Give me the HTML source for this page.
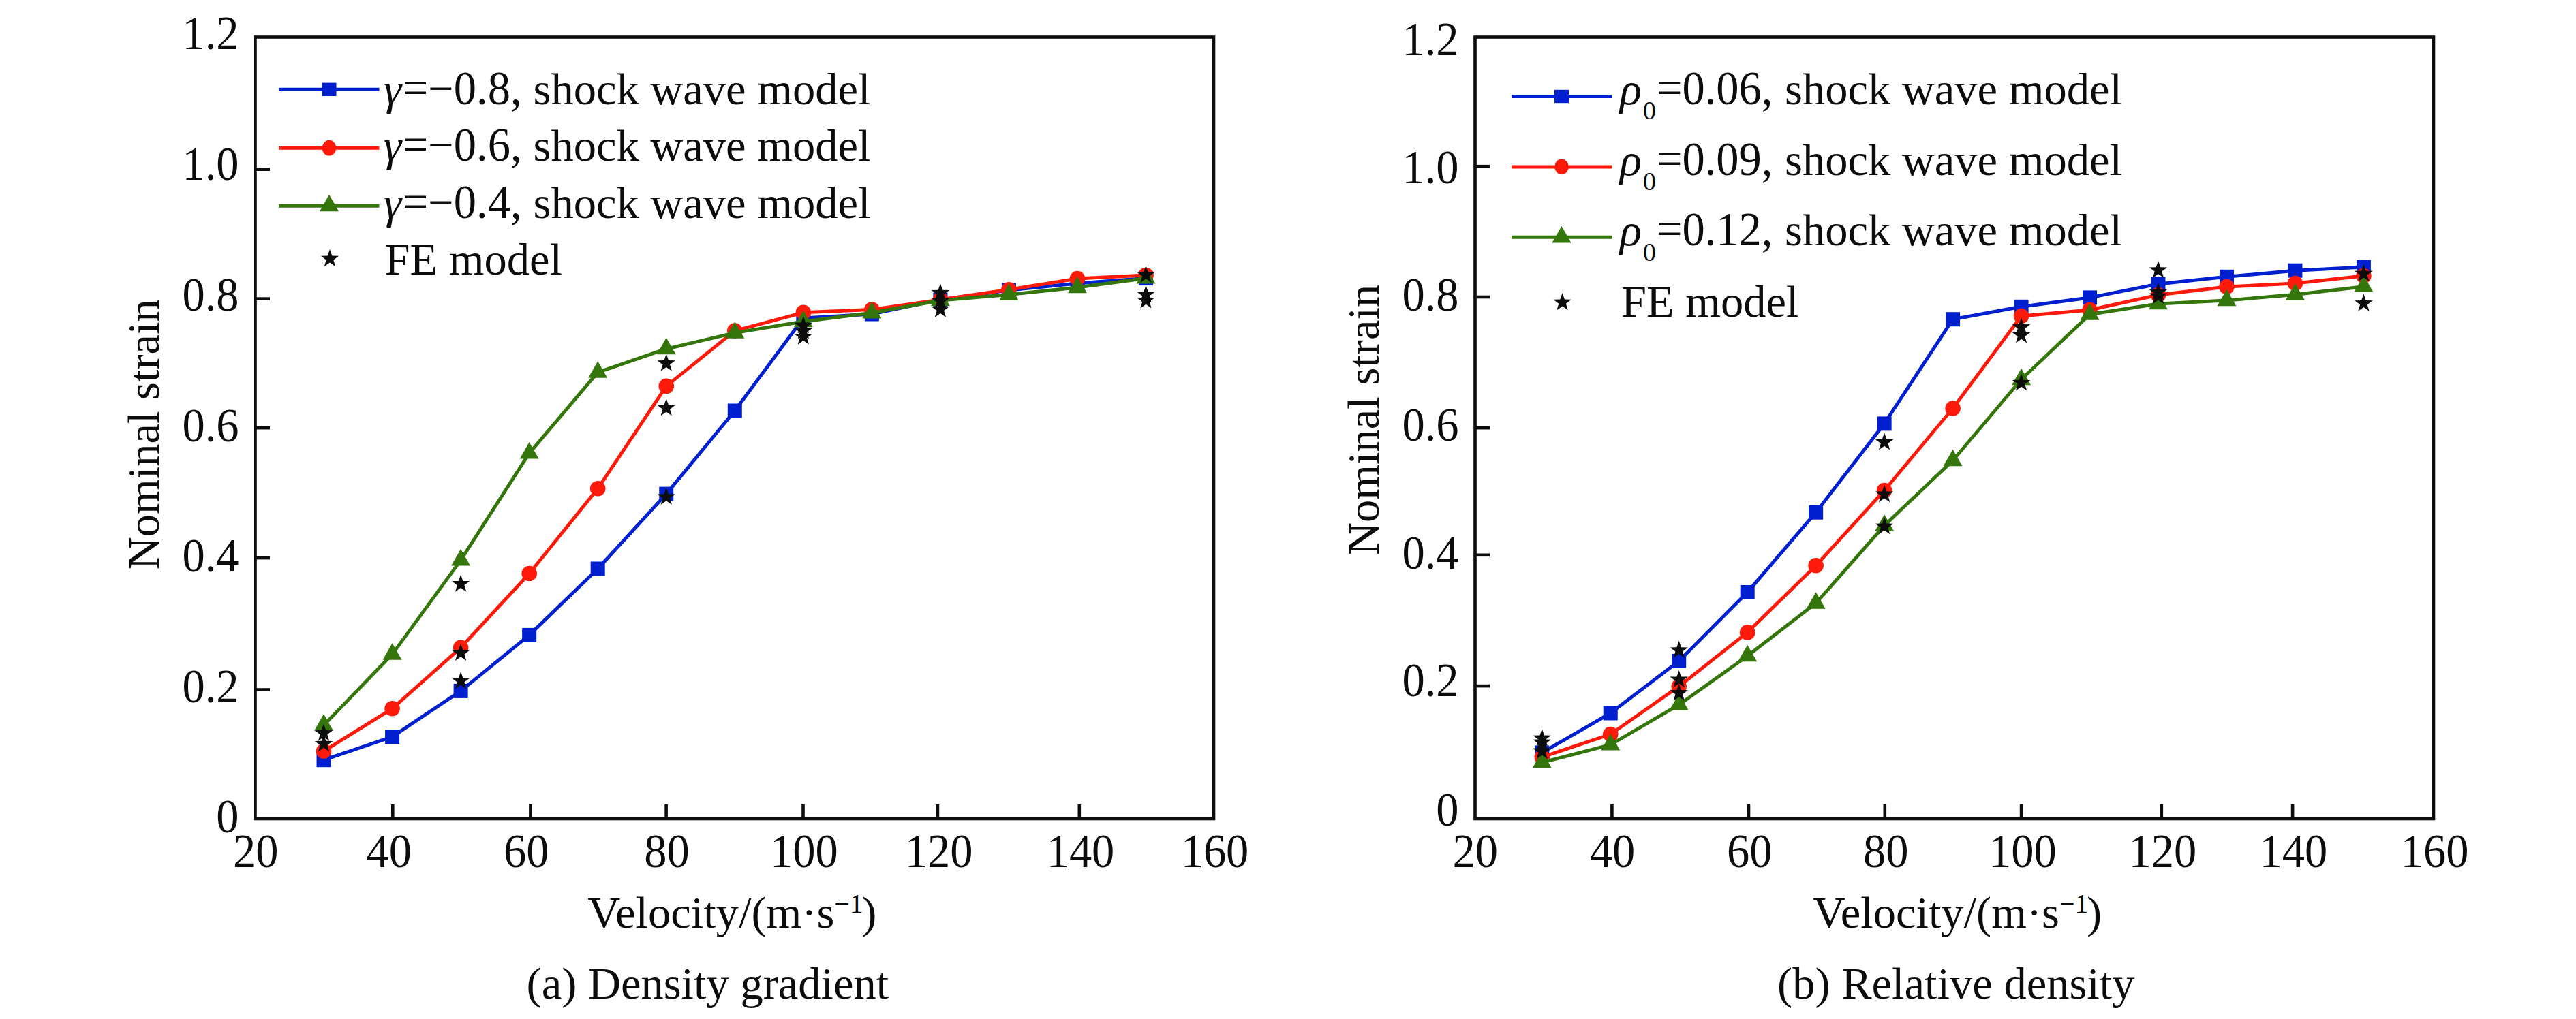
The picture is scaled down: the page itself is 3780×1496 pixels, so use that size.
<!DOCTYPE html>
<html><head><meta charset="utf-8"><title>Nominal strain vs velocity</title>
<style>
html,body{margin:0;padding:0;background:#fff;}
svg{display:block;}
text{font-family:"Liberation Serif",serif;fill:#0b0c0c;}
</style></head>
<body>
<svg width="3780" height="1496" viewBox="0 0 3780 1496">
<rect x="0" y="0" width="3780" height="1496" fill="#ffffff"/>
<rect x="374.5" y="54.5" width="1406.5" height="1147.5" fill="none" stroke="#0b0c0c" stroke-width="4.6"/>
<line x1="374.5" y1="248.7" x2="396.0" y2="248.7" stroke="#0b0c0c" stroke-width="4.6"/>
<line x1="374.5" y1="438.6" x2="396.0" y2="438.6" stroke="#0b0c0c" stroke-width="4.6"/>
<line x1="374.5" y1="628.2" x2="396.0" y2="628.2" stroke="#0b0c0c" stroke-width="4.6"/>
<line x1="374.5" y1="819.1" x2="396.0" y2="819.1" stroke="#0b0c0c" stroke-width="4.6"/>
<line x1="374.5" y1="1012.5" x2="396.0" y2="1012.5" stroke="#0b0c0c" stroke-width="4.6"/>
<line x1="576.3" y1="1202" x2="576.3" y2="1181" stroke="#0b0c0c" stroke-width="4.6"/>
<line x1="778.4" y1="1202" x2="778.4" y2="1181" stroke="#0b0c0c" stroke-width="4.6"/>
<line x1="977.6" y1="1202" x2="977.6" y2="1181" stroke="#0b0c0c" stroke-width="4.6"/>
<line x1="1178.5" y1="1202" x2="1178.5" y2="1181" stroke="#0b0c0c" stroke-width="4.6"/>
<line x1="1375.9" y1="1202" x2="1375.9" y2="1181" stroke="#0b0c0c" stroke-width="4.6"/>
<line x1="1583.8" y1="1202" x2="1583.8" y2="1181" stroke="#0b0c0c" stroke-width="4.6"/>
<text transform="translate(350.5,72) scale(0.9638,1)" font-size="69.0" text-anchor="end">1.2</text>
<text transform="translate(350.5,264) scale(0.9638,1)" font-size="69.0" text-anchor="end">1.0</text>
<text transform="translate(350.5,456) scale(0.9638,1)" font-size="69.0" text-anchor="end">0.8</text>
<text transform="translate(350.5,647.5) scale(0.9638,1)" font-size="69.0" text-anchor="end">0.6</text>
<text transform="translate(350.5,839) scale(0.9638,1)" font-size="69.0" text-anchor="end">0.4</text>
<text transform="translate(350.5,1031) scale(0.9638,1)" font-size="69.0" text-anchor="end">0.2</text>
<text transform="translate(350.5,1222) scale(0.9638,1)" font-size="69.0" text-anchor="end">0</text>
<text transform="translate(375.3,1273) scale(0.9638,1)" font-size="69.0" text-anchor="middle">20</text>
<text transform="translate(570.8,1273) scale(0.9638,1)" font-size="69.0" text-anchor="middle">40</text>
<text transform="translate(772.3,1273) scale(0.9638,1)" font-size="69.0" text-anchor="middle">60</text>
<text transform="translate(978.5,1273) scale(0.9638,1)" font-size="69.0" text-anchor="middle">80</text>
<text transform="translate(1179.9,1273) scale(0.9638,1)" font-size="69.0" text-anchor="middle">100</text>
<text transform="translate(1377.7,1273) scale(0.9638,1)" font-size="69.0" text-anchor="middle">120</text>
<text transform="translate(1585.5,1273) scale(0.9638,1)" font-size="69.0" text-anchor="middle">140</text>
<text transform="translate(1782.5,1273) scale(0.9638,1)" font-size="69.0" text-anchor="middle">160</text>
<polyline points="475.04,1115.70 575.58,1081.60 676.12,1014.40 776.66,932.40 877.20,835.00 977.74,725.10 1078.28,603.00 1178.82,467.00 1279.36,461.00 1379.90,440.00 1480.44,426.00 1580.98,416.00 1681.52,408.60" fill="none" stroke="#0020d0" stroke-width="5" stroke-linejoin="round"/>
<rect x="464.54" y="1105.20" width="21" height="21" fill="#0020d0"/>
<rect x="565.08" y="1071.10" width="21" height="21" fill="#0020d0"/>
<rect x="665.62" y="1003.90" width="21" height="21" fill="#0020d0"/>
<rect x="766.16" y="921.90" width="21" height="21" fill="#0020d0"/>
<rect x="866.70" y="824.50" width="21" height="21" fill="#0020d0"/>
<rect x="967.24" y="714.60" width="21" height="21" fill="#0020d0"/>
<rect x="1067.78" y="592.50" width="21" height="21" fill="#0020d0"/>
<rect x="1168.32" y="456.50" width="21" height="21" fill="#0020d0"/>
<rect x="1268.86" y="450.50" width="21" height="21" fill="#0020d0"/>
<rect x="1369.40" y="429.50" width="21" height="21" fill="#0020d0"/>
<rect x="1469.94" y="415.50" width="21" height="21" fill="#0020d0"/>
<rect x="1570.48" y="405.50" width="21" height="21" fill="#0020d0"/>
<rect x="1671.02" y="398.10" width="21" height="21" fill="#0020d0"/>
<polyline points="475.04,1102.80 575.58,1040.30 676.12,950.80 776.66,842.00 877.20,717.30 977.74,566.90 1078.28,485.60 1178.82,458.80 1279.36,454.50 1379.90,440.00 1480.44,425.20 1580.98,409.00 1681.52,404.00" fill="none" stroke="#fd1a0b" stroke-width="5" stroke-linejoin="round"/>
<circle cx="475.04" cy="1102.80" r="11.3" fill="#fd1a0b"/>
<circle cx="575.58" cy="1040.30" r="11.3" fill="#fd1a0b"/>
<circle cx="676.12" cy="950.80" r="11.3" fill="#fd1a0b"/>
<circle cx="776.66" cy="842.00" r="11.3" fill="#fd1a0b"/>
<circle cx="877.20" cy="717.30" r="11.3" fill="#fd1a0b"/>
<circle cx="977.74" cy="566.90" r="11.3" fill="#fd1a0b"/>
<circle cx="1078.28" cy="485.60" r="11.3" fill="#fd1a0b"/>
<circle cx="1178.82" cy="458.80" r="11.3" fill="#fd1a0b"/>
<circle cx="1279.36" cy="454.50" r="11.3" fill="#fd1a0b"/>
<circle cx="1379.90" cy="440.00" r="11.3" fill="#fd1a0b"/>
<circle cx="1480.44" cy="425.20" r="11.3" fill="#fd1a0b"/>
<circle cx="1580.98" cy="409.00" r="11.3" fill="#fd1a0b"/>
<circle cx="1681.52" cy="404.00" r="11.3" fill="#fd1a0b"/>
<polyline points="475.04,1064.70 575.58,960.60 676.12,822.40 776.66,665.30 877.20,546.70 977.74,512.20 1078.28,488.60 1178.82,472.00 1279.36,459.30 1379.90,441.00 1480.44,432.50 1580.98,422.00 1681.52,408.40" fill="none" stroke="#34750c" stroke-width="5" stroke-linejoin="round"/>
<polygon points="475.04,1048.37 461.04,1072.87 489.04,1072.87" fill="#34750c"/>
<polygon points="575.58,944.27 561.58,968.77 589.58,968.77" fill="#34750c"/>
<polygon points="676.12,806.07 662.12,830.57 690.12,830.57" fill="#34750c"/>
<polygon points="776.66,648.97 762.66,673.47 790.66,673.47" fill="#34750c"/>
<polygon points="877.20,530.37 863.20,554.87 891.20,554.87" fill="#34750c"/>
<polygon points="977.74,495.87 963.74,520.37 991.74,520.37" fill="#34750c"/>
<polygon points="1078.28,472.27 1064.28,496.77 1092.28,496.77" fill="#34750c"/>
<polygon points="1178.82,455.67 1164.82,480.17 1192.82,480.17" fill="#34750c"/>
<polygon points="1279.36,442.97 1265.36,467.47 1293.36,467.47" fill="#34750c"/>
<polygon points="1379.90,424.67 1365.90,449.17 1393.90,449.17" fill="#34750c"/>
<polygon points="1480.44,416.17 1466.44,440.67 1494.44,440.67" fill="#34750c"/>
<polygon points="1580.98,405.67 1566.98,430.17 1594.98,430.17" fill="#34750c"/>
<polygon points="1681.52,392.07 1667.52,416.57 1695.52,416.57" fill="#34750c"/>
<polygon points="475.04,1062.60 478.31,1072.00 488.26,1072.20 480.33,1078.22 483.21,1087.75 475.04,1082.06 466.87,1087.75 469.75,1078.22 461.82,1072.20 471.77,1072.00" fill="#0b0c0c"/>
<polygon points="475.04,1078.30 478.31,1087.70 488.26,1087.90 480.33,1093.92 483.21,1103.45 475.04,1097.76 466.87,1103.45 469.75,1093.92 461.82,1087.90 471.77,1087.70" fill="#0b0c0c"/>
<polygon points="676.12,843.50 679.39,852.90 689.34,853.10 681.41,859.12 684.29,868.65 676.12,862.96 667.95,868.65 670.83,859.12 662.90,853.10 672.85,852.90" fill="#0b0c0c"/>
<polygon points="676.12,944.80 679.39,954.20 689.34,954.40 681.41,960.42 684.29,969.95 676.12,964.26 667.95,969.95 670.83,960.42 662.90,954.40 672.85,954.20" fill="#0b0c0c"/>
<polygon points="676.12,986.00 679.39,995.40 689.34,995.60 681.41,1001.62 684.29,1011.15 676.12,1005.46 667.95,1011.15 670.83,1001.62 662.90,995.60 672.85,995.40" fill="#0b0c0c"/>
<polygon points="977.74,519.60 981.01,529.00 990.96,529.20 983.03,535.22 985.91,544.75 977.74,539.06 969.57,544.75 972.45,535.22 964.52,529.20 974.47,529.00" fill="#0b0c0c"/>
<polygon points="977.74,585.20 981.01,594.60 990.96,594.80 983.03,600.82 985.91,610.35 977.74,604.66 969.57,610.35 972.45,600.82 964.52,594.80 974.47,594.60" fill="#0b0c0c"/>
<polygon points="977.74,715.90 981.01,725.30 990.96,725.50 983.03,731.52 985.91,741.05 977.74,735.36 969.57,741.05 972.45,731.52 964.52,725.50 974.47,725.30" fill="#0b0c0c"/>
<polygon points="1178.82,464.10 1182.09,473.50 1192.04,473.70 1184.11,479.72 1186.99,489.25 1178.82,483.56 1170.65,489.25 1173.53,479.72 1165.60,473.70 1175.55,473.50" fill="#0b0c0c"/>
<polygon points="1178.82,472.10 1182.09,481.50 1192.04,481.70 1184.11,487.72 1186.99,497.25 1178.82,491.56 1170.65,497.25 1173.53,487.72 1165.60,481.70 1175.55,481.50" fill="#0b0c0c"/>
<polygon points="1178.82,480.60 1182.09,490.00 1192.04,490.20 1184.11,496.22 1186.99,505.75 1178.82,500.06 1170.65,505.75 1173.53,496.22 1165.60,490.20 1175.55,490.00" fill="#0b0c0c"/>
<polygon points="1379.90,416.30 1383.17,425.70 1393.12,425.90 1385.19,431.92 1388.07,441.45 1379.90,435.76 1371.73,441.45 1374.61,431.92 1366.68,425.90 1376.63,425.70" fill="#0b0c0c"/>
<polygon points="1379.90,428.10 1383.17,437.50 1393.12,437.70 1385.19,443.72 1388.07,453.25 1379.90,447.56 1371.73,453.25 1374.61,443.72 1366.68,437.70 1376.63,437.50" fill="#0b0c0c"/>
<polygon points="1379.90,440.50 1383.17,449.90 1393.12,450.10 1385.19,456.12 1388.07,465.65 1379.90,459.96 1371.73,465.65 1374.61,456.12 1366.68,450.10 1376.63,449.90" fill="#0b0c0c"/>
<polygon points="1681.52,389.80 1684.79,399.20 1694.74,399.40 1686.81,405.42 1689.69,414.95 1681.52,409.26 1673.35,414.95 1676.23,405.42 1668.30,399.40 1678.25,399.20" fill="#0b0c0c"/>
<polygon points="1681.52,419.00 1684.79,428.40 1694.74,428.60 1686.81,434.62 1689.69,444.15 1681.52,438.46 1673.35,444.15 1676.23,434.62 1668.30,428.60 1678.25,428.40" fill="#0b0c0c"/>
<polygon points="1681.52,427.30 1684.79,436.70 1694.74,436.90 1686.81,442.92 1689.69,452.45 1681.52,446.76 1673.35,452.45 1676.23,442.92 1668.30,436.90 1678.25,436.70" fill="#0b0c0c"/>
<text transform="translate(233.3,637.7) rotate(-90)" font-size="66.5" text-anchor="middle">Nominal strain</text>
<text x="862.3" y="1362.3" font-size="66.5" text-anchor="start" >Velocity/(m·s<tspan font-size="40" dy="-22.5">−1</tspan><tspan dy="22.5" dx="-2.5">)</tspan></text>
<text x="1038.4" y="1466.3" font-size="66.5" text-anchor="middle" >(a) Density gradient</text>
<line x1="409" y1="131.3" x2="556.5" y2="131.3" stroke="#0020d0" stroke-width="5"/>
<rect x="472.50" y="121.60" width="21" height="19.4" fill="#0020d0"/>
<text x="563" y="153.1" font-size="66.5"><tspan font-style="italic">γ</tspan><tspan x="782.5">shock wave model</tspan></text>
<text transform="translate(590.8,153.1) scale(0.9638,1)" font-size="69.0" text-anchor="start">=−0.8,</text>
<line x1="409" y1="217.2" x2="556.5" y2="217.2" stroke="#fd1a0b" stroke-width="5"/>
<ellipse cx="483" cy="217.2" rx="10.3" ry="11.4" fill="#fd1a0b"/>
<text x="563" y="236.1" font-size="66.5"><tspan font-style="italic">γ</tspan><tspan x="782.5">shock wave model</tspan></text>
<text transform="translate(590.8,236.1) scale(0.9638,1)" font-size="69.0" text-anchor="start">=−0.6,</text>
<line x1="409" y1="302.2" x2="556.5" y2="302.2" stroke="#34750c" stroke-width="5"/>
<polygon points="483.00,285.87 469.00,310.37 497.00,310.37" fill="#34750c"/>
<text x="563" y="319.5" font-size="66.5"><tspan font-style="italic">γ</tspan><tspan x="782.5">shock wave model</tspan></text>
<text transform="translate(590.8,319.5) scale(0.9638,1)" font-size="69.0" text-anchor="start">=−0.4,</text>
<polygon points="484.00,366.10 487.27,375.50 497.22,375.70 489.29,381.72 492.17,391.25 484.00,385.56 475.83,391.25 478.71,381.72 470.78,375.70 480.73,375.50" fill="#0b0c0c"/>
<text x="564.5" y="403.2" font-size="66.5" text-anchor="start" >FE model</text>
<rect x="2164.5" y="54.5" width="1406.5" height="1147.5" fill="none" stroke="#0b0c0c" stroke-width="4.6"/>
<line x1="2164.5" y1="244.2" x2="2186.0" y2="244.2" stroke="#0b0c0c" stroke-width="4.6"/>
<line x1="2164.5" y1="436" x2="2186.0" y2="436" stroke="#0b0c0c" stroke-width="4.6"/>
<line x1="2164.5" y1="628.2" x2="2186.0" y2="628.2" stroke="#0b0c0c" stroke-width="4.6"/>
<line x1="2164.5" y1="814.8" x2="2186.0" y2="814.8" stroke="#0b0c0c" stroke-width="4.6"/>
<line x1="2164.5" y1="1007.1" x2="2186.0" y2="1007.1" stroke="#0b0c0c" stroke-width="4.6"/>
<line x1="2365.4" y1="1202" x2="2365.4" y2="1181" stroke="#0b0c0c" stroke-width="4.6"/>
<line x1="2566" y1="1202" x2="2566" y2="1181" stroke="#0b0c0c" stroke-width="4.6"/>
<line x1="2765.8" y1="1202" x2="2765.8" y2="1181" stroke="#0b0c0c" stroke-width="4.6"/>
<line x1="2966.1" y1="1202" x2="2966.1" y2="1181" stroke="#0b0c0c" stroke-width="4.6"/>
<line x1="3171.8" y1="1202" x2="3171.8" y2="1181" stroke="#0b0c0c" stroke-width="4.6"/>
<line x1="3364.1" y1="1202" x2="3364.1" y2="1181" stroke="#0b0c0c" stroke-width="4.6"/>
<text transform="translate(2140.5,80.7) scale(0.9638,1)" font-size="69.0" text-anchor="end">1.2</text>
<text transform="translate(2140.5,268.7) scale(0.9638,1)" font-size="69.0" text-anchor="end">1.0</text>
<text transform="translate(2140.5,455.7) scale(0.9638,1)" font-size="69.0" text-anchor="end">0.8</text>
<text transform="translate(2140.5,647.1) scale(0.9638,1)" font-size="69.0" text-anchor="end">0.6</text>
<text transform="translate(2140.5,835.1) scale(0.9638,1)" font-size="69.0" text-anchor="end">0.4</text>
<text transform="translate(2140.5,1022.4) scale(0.9638,1)" font-size="69.0" text-anchor="end">0.2</text>
<text transform="translate(2140.5,1211.5) scale(0.9638,1)" font-size="69.0" text-anchor="end">0</text>
<text transform="translate(2164.8,1273) scale(0.9638,1)" font-size="69.0" text-anchor="middle">20</text>
<text transform="translate(2366.1,1273) scale(0.9638,1)" font-size="69.0" text-anchor="middle">40</text>
<text transform="translate(2567.2,1273) scale(0.9638,1)" font-size="69.0" text-anchor="middle">60</text>
<text transform="translate(2767.3,1273) scale(0.9638,1)" font-size="69.0" text-anchor="middle">80</text>
<text transform="translate(2967.8,1273) scale(0.9638,1)" font-size="69.0" text-anchor="middle">100</text>
<text transform="translate(3173.3,1273) scale(0.9638,1)" font-size="69.0" text-anchor="middle">120</text>
<text transform="translate(3365.4,1273) scale(0.9638,1)" font-size="69.0" text-anchor="middle">140</text>
<text transform="translate(3572.6,1273) scale(0.9638,1)" font-size="69.0" text-anchor="middle">160</text>
<polyline points="2262.77,1105.00 2363.24,1047.00 2463.71,970.40 2564.18,869.50 2664.65,752.20 2765.12,621.90 2865.59,468.70 2966.06,450.30 3066.53,436.90 3167.00,417.00 3267.47,406.30 3367.94,397.20 3468.41,392.10" fill="none" stroke="#0020d0" stroke-width="5" stroke-linejoin="round"/>
<rect x="2252.27" y="1094.50" width="21" height="21" fill="#0020d0"/>
<rect x="2352.74" y="1036.50" width="21" height="21" fill="#0020d0"/>
<rect x="2453.21" y="959.90" width="21" height="21" fill="#0020d0"/>
<rect x="2553.68" y="859.00" width="21" height="21" fill="#0020d0"/>
<rect x="2654.15" y="741.70" width="21" height="21" fill="#0020d0"/>
<rect x="2754.62" y="611.40" width="21" height="21" fill="#0020d0"/>
<rect x="2855.09" y="458.20" width="21" height="21" fill="#0020d0"/>
<rect x="2955.56" y="439.80" width="21" height="21" fill="#0020d0"/>
<rect x="3056.03" y="426.40" width="21" height="21" fill="#0020d0"/>
<rect x="3156.50" y="406.50" width="21" height="21" fill="#0020d0"/>
<rect x="3256.97" y="395.80" width="21" height="21" fill="#0020d0"/>
<rect x="3357.44" y="386.70" width="21" height="21" fill="#0020d0"/>
<rect x="3457.91" y="381.60" width="21" height="21" fill="#0020d0"/>
<polyline points="2262.77,1111.50 2363.24,1078.00 2463.71,1007.70 2564.18,928.40 2664.65,830.30 2765.12,720.00 2865.59,599.50 2966.06,464.00 3066.53,455.00 3167.00,433.00 3267.47,421.00 3367.94,416.00 3468.41,405.00" fill="none" stroke="#fd1a0b" stroke-width="5" stroke-linejoin="round"/>
<circle cx="2262.77" cy="1111.50" r="11.3" fill="#fd1a0b"/>
<circle cx="2363.24" cy="1078.00" r="11.3" fill="#fd1a0b"/>
<circle cx="2463.71" cy="1007.70" r="11.3" fill="#fd1a0b"/>
<circle cx="2564.18" cy="928.40" r="11.3" fill="#fd1a0b"/>
<circle cx="2664.65" cy="830.30" r="11.3" fill="#fd1a0b"/>
<circle cx="2765.12" cy="720.00" r="11.3" fill="#fd1a0b"/>
<circle cx="2865.59" cy="599.50" r="11.3" fill="#fd1a0b"/>
<circle cx="2966.06" cy="464.00" r="11.3" fill="#fd1a0b"/>
<circle cx="3066.53" cy="455.00" r="11.3" fill="#fd1a0b"/>
<circle cx="3167.00" cy="433.00" r="11.3" fill="#fd1a0b"/>
<circle cx="3267.47" cy="421.00" r="11.3" fill="#fd1a0b"/>
<circle cx="3367.94" cy="416.00" r="11.3" fill="#fd1a0b"/>
<circle cx="3468.41" cy="405.00" r="11.3" fill="#fd1a0b"/>
<polyline points="2262.77,1119.30 2363.24,1093.40 2463.71,1034.70 2564.18,963.00 2664.65,885.60 2765.12,771.50 2865.59,676.00 2966.06,557.00 3066.53,461.50 3167.00,446.00 3267.47,441.10 3367.94,432.40 3468.41,420.70" fill="none" stroke="#34750c" stroke-width="5" stroke-linejoin="round"/>
<polygon points="2262.77,1102.97 2248.77,1127.47 2276.77,1127.47" fill="#34750c"/>
<polygon points="2363.24,1077.07 2349.24,1101.57 2377.24,1101.57" fill="#34750c"/>
<polygon points="2463.71,1018.37 2449.71,1042.87 2477.71,1042.87" fill="#34750c"/>
<polygon points="2564.18,946.67 2550.18,971.17 2578.18,971.17" fill="#34750c"/>
<polygon points="2664.65,869.27 2650.65,893.77 2678.65,893.77" fill="#34750c"/>
<polygon points="2765.12,755.17 2751.12,779.67 2779.12,779.67" fill="#34750c"/>
<polygon points="2865.59,659.67 2851.59,684.17 2879.59,684.17" fill="#34750c"/>
<polygon points="2966.06,540.67 2952.06,565.17 2980.06,565.17" fill="#34750c"/>
<polygon points="3066.53,445.17 3052.53,469.67 3080.53,469.67" fill="#34750c"/>
<polygon points="3167.00,429.67 3153.00,454.17 3181.00,454.17" fill="#34750c"/>
<polygon points="3267.47,424.77 3253.47,449.27 3281.47,449.27" fill="#34750c"/>
<polygon points="3367.94,416.07 3353.94,440.57 3381.94,440.57" fill="#34750c"/>
<polygon points="3468.41,404.37 3454.41,428.87 3482.41,428.87" fill="#34750c"/>
<polygon points="2262.77,1070.10 2266.04,1079.50 2275.99,1079.70 2268.06,1085.72 2270.94,1095.25 2262.77,1089.56 2254.60,1095.25 2257.48,1085.72 2249.55,1079.70 2259.50,1079.50" fill="#0b0c0c"/>
<polygon points="2262.77,1076.10 2266.04,1085.50 2275.99,1085.70 2268.06,1091.72 2270.94,1101.25 2262.77,1095.56 2254.60,1101.25 2257.48,1091.72 2249.55,1085.70 2259.50,1085.50" fill="#0b0c0c"/>
<polygon points="2262.77,1089.10 2266.04,1098.50 2275.99,1098.70 2268.06,1104.72 2270.94,1114.25 2262.77,1108.56 2254.60,1114.25 2257.48,1104.72 2249.55,1098.70 2259.50,1098.50" fill="#0b0c0c"/>
<polygon points="2463.71,940.80 2466.98,950.20 2476.93,950.40 2469.00,956.42 2471.88,965.95 2463.71,960.26 2455.54,965.95 2458.42,956.42 2450.49,950.40 2460.44,950.20" fill="#0b0c0c"/>
<polygon points="2463.71,984.00 2466.98,993.40 2476.93,993.60 2469.00,999.62 2471.88,1009.15 2463.71,1003.46 2455.54,1009.15 2458.42,999.62 2450.49,993.60 2460.44,993.40" fill="#0b0c0c"/>
<polygon points="2463.71,1003.70 2466.98,1013.10 2476.93,1013.30 2469.00,1019.32 2471.88,1028.85 2463.71,1023.16 2455.54,1028.85 2458.42,1019.32 2450.49,1013.30 2460.44,1013.10" fill="#0b0c0c"/>
<polygon points="2765.12,635.40 2768.39,644.80 2778.34,645.00 2770.41,651.02 2773.29,660.55 2765.12,654.86 2756.95,660.55 2759.83,651.02 2751.90,645.00 2761.85,644.80" fill="#0b0c0c"/>
<polygon points="2765.12,712.00 2768.39,721.40 2778.34,721.60 2770.41,727.62 2773.29,737.15 2765.12,731.46 2756.95,737.15 2759.83,727.62 2751.90,721.60 2761.85,721.40" fill="#0b0c0c"/>
<polygon points="2765.12,759.10 2768.39,768.50 2778.34,768.70 2770.41,774.72 2773.29,784.25 2765.12,778.56 2756.95,784.25 2759.83,774.72 2751.90,768.70 2761.85,768.50" fill="#0b0c0c"/>
<polygon points="2966.06,466.60 2969.33,476.00 2979.28,476.20 2971.35,482.22 2974.23,491.75 2966.06,486.06 2957.89,491.75 2960.77,482.22 2952.84,476.20 2962.79,476.00" fill="#0b0c0c"/>
<polygon points="2966.06,478.40 2969.33,487.80 2979.28,488.00 2971.35,494.02 2974.23,503.55 2966.06,497.86 2957.89,503.55 2960.77,494.02 2952.84,488.00 2962.79,487.80" fill="#0b0c0c"/>
<polygon points="2966.06,548.30 2969.33,557.70 2979.28,557.90 2971.35,563.92 2974.23,573.45 2966.06,567.76 2957.89,573.45 2960.77,563.92 2952.84,557.90 2962.79,557.70" fill="#0b0c0c"/>
<polygon points="3167.00,382.90 3170.27,392.30 3180.22,392.50 3172.29,398.52 3175.17,408.05 3167.00,402.36 3158.83,408.05 3161.71,398.52 3153.78,392.50 3163.73,392.30" fill="#0b0c0c"/>
<polygon points="3167.00,415.30 3170.27,424.70 3180.22,424.90 3172.29,430.92 3175.17,440.45 3167.00,434.76 3158.83,440.45 3161.71,430.92 3153.78,424.90 3163.73,424.70" fill="#0b0c0c"/>
<polygon points="3167.00,421.10 3170.27,430.50 3180.22,430.70 3172.29,436.72 3175.17,446.25 3167.00,440.56 3158.83,446.25 3161.71,436.72 3153.78,430.70 3163.73,430.50" fill="#0b0c0c"/>
<polygon points="3468.41,388.10 3471.68,397.50 3481.63,397.70 3473.70,403.72 3476.58,413.25 3468.41,407.56 3460.24,413.25 3463.12,403.72 3455.19,397.70 3465.14,397.50" fill="#0b0c0c"/>
<polygon points="3468.41,431.60 3471.68,441.00 3481.63,441.20 3473.70,447.22 3476.58,456.75 3468.41,451.06 3460.24,456.75 3463.12,447.22 3455.19,441.20 3465.14,441.00" fill="#0b0c0c"/>
<text transform="translate(2023.3,616.4) rotate(-90)" font-size="66.5" text-anchor="middle">Nominal strain</text>
<text x="2660" y="1362.3" font-size="66.5" text-anchor="start" >Velocity/(m·s<tspan font-size="40" dy="-22.5">−1</tspan><tspan dy="22.5" dx="-2.5">)</tspan></text>
<text x="2870.3" y="1466.3" font-size="66.5" text-anchor="middle" >(b) Relative density</text>
<line x1="2218" y1="141.5" x2="2365.5" y2="141.5" stroke="#0020d0" stroke-width="5"/>
<rect x="2281.00" y="131.80" width="21" height="19.4" fill="#0020d0"/>
<text x="2377" y="152.7" font-size="66.5"><tspan font-style="italic">ρ</tspan><tspan x="2410.8" dy="22.3" font-size="38.6">0</tspan><tspan x="2619" dy="-22.3">shock wave model</tspan></text>
<text transform="translate(2431,152.7) scale(0.9638,1)" font-size="69.0" text-anchor="start">=0.06,</text>
<line x1="2218" y1="244.9" x2="2365.5" y2="244.9" stroke="#fd1a0b" stroke-width="5"/>
<ellipse cx="2291.5" cy="244.9" rx="10.3" ry="11.4" fill="#fd1a0b"/>
<text x="2377" y="256.7" font-size="66.5"><tspan font-style="italic">ρ</tspan><tspan x="2410.8" dy="22.3" font-size="38.6">0</tspan><tspan x="2619" dy="-22.3">shock wave model</tspan></text>
<text transform="translate(2431,256.7) scale(0.9638,1)" font-size="69.0" text-anchor="start">=0.09,</text>
<line x1="2218" y1="348.3" x2="2365.5" y2="348.3" stroke="#34750c" stroke-width="5"/>
<polygon points="2291.50,331.97 2277.50,356.47 2305.50,356.47" fill="#34750c"/>
<text x="2377" y="360.3" font-size="66.5"><tspan font-style="italic">ρ</tspan><tspan x="2410.8" dy="22.3" font-size="38.6">0</tspan><tspan x="2619" dy="-22.3">shock wave model</tspan></text>
<text transform="translate(2431,360.3) scale(0.9638,1)" font-size="69.0" text-anchor="start">=0.12,</text>
<polygon points="2292.60,430.10 2295.87,439.50 2305.82,439.70 2297.89,445.72 2300.77,455.25 2292.60,449.56 2284.43,455.25 2287.31,445.72 2279.38,439.70 2289.33,439.50" fill="#0b0c0c"/>
<text x="2379" y="464.6" font-size="66.5" text-anchor="start" >FE model</text>
</svg>
</body></html>
